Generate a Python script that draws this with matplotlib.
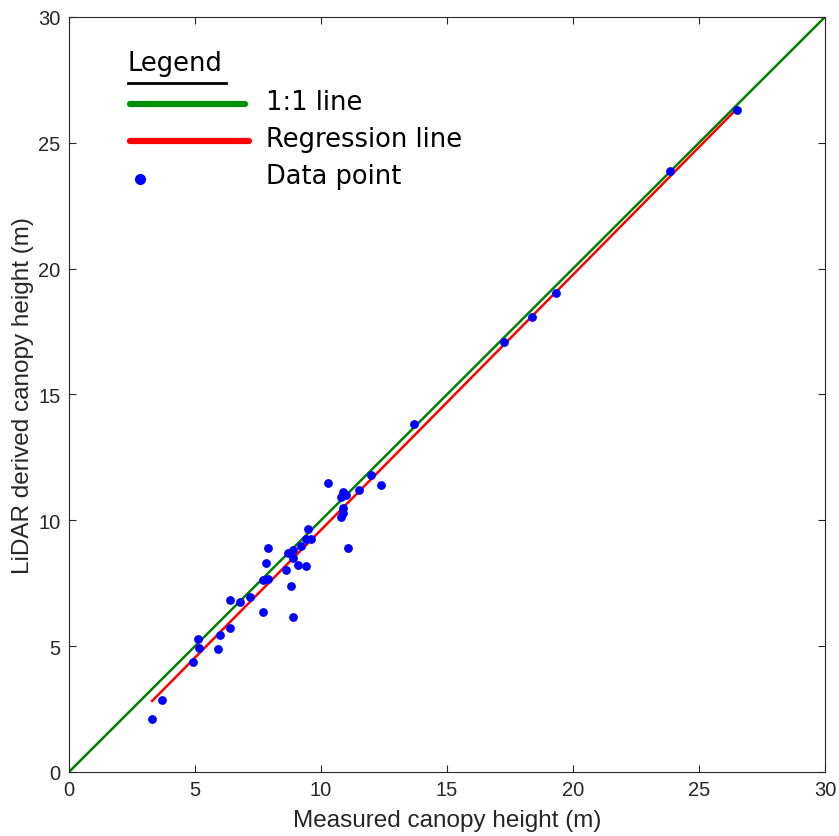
import numpy as np
import matplotlib.pyplot as plt
from matplotlib.lines import Line2D

# measured vs LiDAR-derived canopy height (m)
measured = [3.28, 3.68, 4.91, 5.11, 5.17, 5.90, 5.99, 6.38, 6.38, 6.79,
            7.18, 7.70, 7.70, 7.90, 7.80, 7.90, 8.61, 8.81, 8.89, 8.69,
            8.89, 8.89, 9.09, 9.19, 9.42, 9.42, 9.48, 9.62, 10.28, 10.79,
            10.89, 10.99, 10.87, 10.89, 10.79, 11.07, 11.51, 11.97, 12.39,
            13.69, 17.25, 18.39, 19.31, 23.85, 26.51]
lidar = [2.11, 2.86, 4.36, 5.30, 4.91, 4.90, 5.44, 5.73, 6.85, 6.77,
         6.97, 6.37, 7.64, 7.68, 8.29, 8.89, 8.03, 7.40, 6.17, 8.69,
         8.83, 8.49, 8.24, 8.99, 8.20, 9.24, 9.67, 9.24, 11.47, 10.91,
         11.11, 11.02, 10.49, 10.28, 10.14, 8.89, 11.20, 11.80, 11.41,
         13.84, 17.10, 18.06, 19.02, 23.87, 26.31]

one_to_one = [0, 30]
reg_x = [3.3, 26.5]
reg_y = [2.82, 26.35]

grey = '#262626'

fig = plt.figure(figsize=(8.39, 8.37), dpi=100)
ax = fig.add_axes([0.0822, 0.0765, 0.9011, 0.902])

ax.plot(one_to_one, one_to_one, color='#008000', lw=1.8, zorder=2)
ax.plot(reg_x, reg_y, color='#ff0000', lw=1.8, zorder=3)
ax.plot(measured, lidar, 'o', color='#0000ff', ms=5.3, zorder=4)

ax.set_xlim(0, 30)
ax.set_ylim(0, 30)
ax.set_xticks(range(0, 31, 5))
ax.set_yticks(range(0, 31, 5))
ax.tick_params(direction='in', top=True, right=True, length=5,
               colors=grey, labelsize=14.5, pad=6)
for lab in ax.get_xticklabels() + ax.get_yticklabels():
    lab.set_family('Liberation Sans')
for s in ax.spines.values():
    s.set_color(grey)
    s.set_linewidth(0.8)

ax.set_xlabel('Measured canopy height (m)', fontsize=17.5,
              family='Liberation Sans', color=grey, labelpad=7)
ax.set_ylabel('LiDAR derived canopy height (m)', fontsize=17.5,
              family='Liberation Sans', color=grey, labelpad=3)

# hand-drawn legend in the upper left
tr = ax.transAxes
def fx(px):
    return (px - 69) / 756
def fy(py):
    return (773 - py) / 755

ax.text(fx(128), fy(64), 'Legend', transform=tr, fontsize=18.5, va='center')
ax.add_line(Line2D([fx(128), fx(226)], [fy(84), fy(84)], transform=tr,
                   color='black', lw=2))
ax.add_line(Line2D([fx(130), fx(245)], [fy(105), fy(105)], transform=tr,
                   color='#009000', lw=4.5, solid_capstyle='round'))
ax.add_line(Line2D([fx(130), fx(249)], [fy(142), fy(142)], transform=tr,
                   color='#ff0000', lw=4.5, solid_capstyle='round'))
ax.plot([fx(140)], [fy(180)], 'o', color='#0000ff', ms=7, transform=tr)
ax.text(fx(266), fy(103), '1:1 line', transform=tr, fontsize=18.5, va='center')
ax.text(fx(266), fy(140), 'Regression line', transform=tr, fontsize=18.5, va='center')
ax.text(fx(266), fy(177), 'Data point', transform=tr, fontsize=18.5, va='center')

fig.savefig('out.png', dpi=100)
